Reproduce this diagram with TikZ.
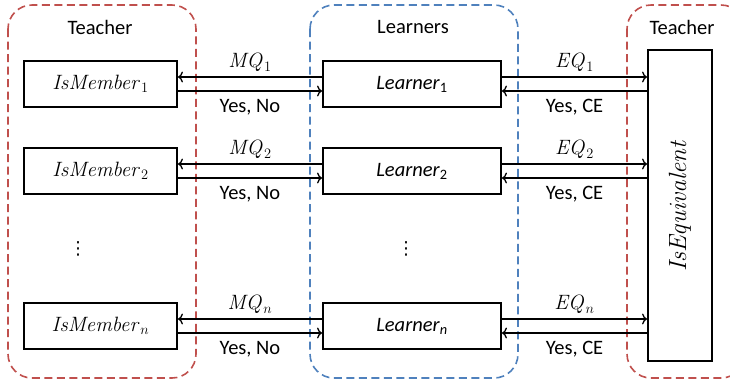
\documentclass[tikz,border=0pt]{standalone}
\usepackage[no-math]{fontspec}
\setmainfont{Carlito}
\newfontfamily\dejavu{DejaVu Sans}
\usetikzlibrary{arrows.meta}
\definecolor{tred}{RGB}{192,80,77}
\definecolor{tblue}{RGB}{79,129,189}
\begin{document}
\begin{tikzpicture}[x=1pt,y=-1pt,
  font=\fontsize{20.5}{24}\selectfont,
  group/.style={line width=1.6pt, dash pattern=on 8pt off 4.5pt, rounded corners=24pt},
  boxx/.style={draw, line width=1.9pt, minimum height=46pt, inner sep=0pt},
  arr/.style={line width=1.3pt, -{To[length=5pt,width=11pt,line width=1.3pt]}},
  lab/.style={inner sep=1.5pt},
  mlab/.style={inner sep=1.5pt, font=\fontsize{19.5}{23}\selectfont},
  bigm/.style={font=\fontsize{22}{26}\selectfont}]
\useasboundingbox (0,0) rectangle (730,384);
% groups
\draw[group, tred] (8,5) rectangle (196,378);
\draw[group, tblue] (310,5) rectangle (518,378);
\draw[group, tred] (627,5) rectangle (745,378);
\node (t1) at (100,27) {Teacher};
\node (tl) at (413,27) {Learners};
\node (t2) at (682,27) {Teacher};
% boxes
\node[boxx, bigm, minimum width=153pt] (m1) at (100.5,84) {$\mathit{IsMember}_1$};
\node[boxx, bigm, minimum width=153pt] (m2) at (100.5,171) {$\mathit{IsMember}_2$};
\node[boxx, bigm, minimum width=153pt] (mn) at (100.5,326) {$\mathit{IsMember}_n$};
\node[boxx, minimum width=178pt] (l1) at (412,84) {\textit{Learner}\textsubscript{1}};
\node[boxx, minimum width=178pt] (l2) at (412,171) {\textit{Learner}\textsubscript{2}};
\node[boxx, minimum width=178pt] (ln) at (412,326) {\textit{Learner}\textsubscript{\textit{n}}};
\node[boxx, minimum width=64pt, minimum height=311pt] (eq) at (680,205.5) {};
\node[rotate=90, font=\fontsize{24}{28}\selectfont] (eqt) at (eq.center) {$\mathit{IsEquivalent}$};
\node (d1) at (78,249) {\dejavu\fontsize{18}{20}\selectfont ⋮};
\node (d2) at (406,249) {\dejavu\fontsize{18}{20}\selectfont ⋮};
% arrows
\foreach \r in {1,2,n}{
  \coordinate (lw\r a) at ([yshift=7pt]l\r.west);
  \coordinate (lw\r b) at ([yshift=-7pt]l\r.west);
  \coordinate (le\r a) at ([yshift=7pt]l\r.east);
  \coordinate (le\r b) at ([yshift=-7pt]l\r.east);
  \draw[arr] (lw\r a) -- (lw\r a -| m\r.east) node[mlab, midway, above=3pt] {$\mathit{MQ}_\r$};
  \draw[arr] (lw\r b -| m\r.east) -- (lw\r b) node[lab, midway, below=6pt] {Yes, No};
  \draw[arr] (le\r a) -- (le\r a -| eq.west) node[mlab, midway, above=3pt] {$\mathit{EQ}_\r$};
  \draw[arr] (le\r b -| eq.west) -- (le\r b) node[lab, midway, below=6pt] {Yes, CE};
}
\end{tikzpicture}
\end{document}
